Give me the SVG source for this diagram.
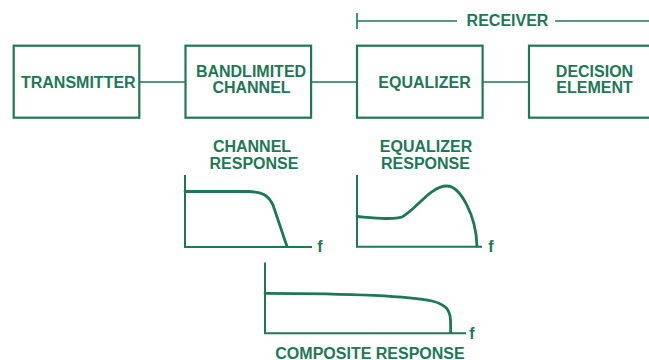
<svg xmlns="http://www.w3.org/2000/svg" width="649" height="360" viewBox="0 0 649 360">
<style>
.box{fill:#fff;stroke:#1d7856;stroke-width:2.2}
.ln{fill:none;stroke:#1d7856;stroke-width:1.6}
.ax{fill:none;stroke:#1d7856;stroke-width:2}
.cv{fill:none;stroke:#1d7856;stroke-width:2.8;stroke-linecap:round}
text{font-family:"Liberation Sans",Arial,sans-serif;font-weight:bold;font-size:16px;fill:#1d7856;text-anchor:middle}
</style>
<rect width="649" height="360" fill="#fff"/>
<g id="connectors">
<line class="ln" x1="139" y1="82" x2="185" y2="82"/>
<line class="ln" x1="311" y1="82" x2="357" y2="82"/>
<line class="ln" x1="483" y1="82" x2="529" y2="82"/>
</g>
<g id="receiver">
<line class="ln" x1="357" y1="13" x2="357" y2="29" stroke-width="1.3"/>
<line class="ln" x1="357" y1="21" x2="457" y2="21" stroke-width="1.3"/>
<line class="ln" x1="555" y1="21" x2="649" y2="21" stroke-width="1.3"/>
<text x="507.5" y="25.7">RECEIVER</text>
</g>
<g id="transmitter">
<rect class="box" x="13.7" y="45.7" width="125.6" height="72"/>
<text x="78.3" y="87.5">TRANSMITTER</text>
</g>
<g id="channel">
<rect class="box" x="185.5" y="45.7" width="125.6" height="72"/>
<text x="251" y="77.3">BANDLIMITED</text>
<text x="251.5" y="93.3">CHANNEL</text>
</g>
<g id="equalizer">
<rect class="box" x="357" y="45.7" width="125.6" height="72"/>
<text x="424.5" y="87.5">EQUALIZER</text>
</g>
<g id="decision">
<rect class="box" x="529" y="45.7" width="126" height="72"/>
<text x="594.5" y="77.3">DECISION</text>
<text x="594.5" y="93.3">ELEMENT</text>
</g>
<g id="channel-response">
<text x="252" y="151.7">CHANNEL</text>
<text x="254" y="169.3">RESPONSE</text>
<polyline class="ax" points="185,175 185,247 312,247"/>
<path class="cv" d="M185 191.5 H248 C262 191.5 268 195 273 205 L287 246.5"/>
<text x="320" y="252" font-size="15">f</text>
</g>
<g id="equalizer-response">
<text x="426" y="151.7">EQUALIZER</text>
<text x="425.5" y="169.3">RESPONSE</text>
<polyline class="ax" points="357,175 357,246.7 482,246.7"/>
<path class="cv" d="M357 216.5 C375 218 392 220 402 217 C416 210 430 186 447 186 C460 186 476 215 477 246"/>
<text x="491" y="252" font-size="15">f</text>
</g>
<g id="composite-response">
<polyline class="ax" points="265,262.5 265,333.3 466,333.3"/>
<path class="cv" d="M265 293.3 C350 293.5 410 296 432 301 C446 304.5 450 310 450.5 320 L450.7 332.5"/>
<text x="472" y="338.5" font-size="15">f</text>
<text x="370" y="358.5">COMPOSITE RESPONSE</text>
</g>
</svg>
